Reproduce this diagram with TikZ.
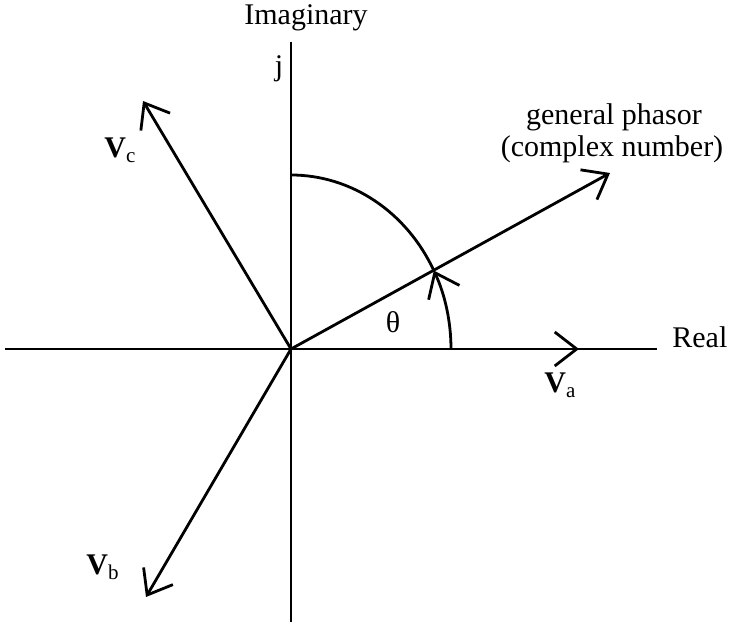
\documentclass[tikz,border=0pt]{standalone}
\usepackage{fontspec}
\setmainfont{Liberation Serif}
\usetikzlibrary{arrows.meta}

\tikzset{
  axis/.style={line width=1.3pt},
  phasor/.style={line width=1.4pt, -{Straight Barb[length=11pt,width=17pt]}},
  lbl/.style={font=\fontsize{15}{18}\selectfont, inner sep=0pt}
}

\begin{document}
\begin{tikzpicture}[x=0.5pt, y=-0.5pt]
	\useasboundingbox (0,0) rectangle (735,624);
	% 坐标点
	\coordinate (O) at (291,349);
	\coordinate (xl) at (5,349);
	\coordinate (xr) at (657,349);
	\coordinate (yt) at (291,42);
	\coordinate (yb) at (291,622);
	\coordinate (Va) at (579,349);
	\coordinate (Vb) at (146,597);
	\coordinate (Vc) at (143,101);
	\coordinate (P) at (610,173);
	
	% 坐标轴
	\draw[axis] (xl) -- (xr);
	\draw[axis] (yt) -- (yb);
	
	% 相量
	\draw[phasor] (O) -- (Va);
	\draw[phasor] (O) -- (Vb);
	\draw[phasor] (O) -- (Vc);
	\draw[phasor] (O) -- (P);
	
	% 角度弧线
	\draw[phasor] (451,349) arc[start angle=0, end angle=26.8, x radius=160, y radius=-174];
	\draw[line width=1.4pt] (O) ++(26.8:160 and -174) arc[start angle=26.8, end angle=90, x radius=160, y radius=-174];
	
	% 标注
	\node[lbl, anchor=base] (im) at (306,25) {Imaginary};
	\node[lbl, anchor=base] (j) at (279,76) {j};
	\node[lbl, anchor=base west] (re) at (672,348) {Real};
	\node[lbl, anchor=base] (gp1) at (614,125) {general phasor};
	\node[lbl, anchor=base] (gp2) at (612,157) {(complex number)};
	\node[lbl] (th) at (393,322) {θ};
	\node[lbl, anchor=base west] (la) at (544,393) {\textbf{V}\textsubscript{a}};
	\node[lbl, anchor=base west] (lb) at (86,575) {\textbf{V}\textsubscript{b}};
	\node[lbl, anchor=base west] (lc) at (104,158) {\textbf{V}\textsubscript{c}};
\end{tikzpicture}
\end{document}
